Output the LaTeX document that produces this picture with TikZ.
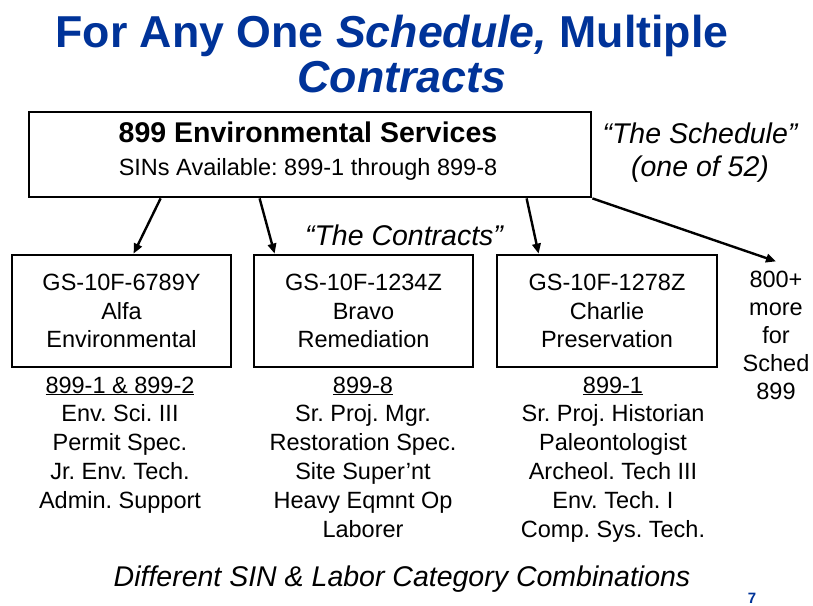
\documentclass[tikz,border=0pt]{standalone}
\usepackage{fontspec}
\setmainfont{Liberation Sans}
\usetikzlibrary{arrows.meta,calc}
\definecolor{titleblue}{RGB}{0,51,153}
\frenchspacing
\begin{document}
\frenchspacing
\begin{tikzpicture}[x=1pt,y=-1pt,
  box/.style={draw, line width=2.8pt, inner sep=0pt, align=center,
    font=\fontsize{23.5}{28.2}\selectfont},
  body/.style={font=\fontsize{23.5}{28.5}\selectfont, inner sep=0pt, anchor=base},
  ital/.style={font=\fontsize{28.5}{33}\selectfont\itshape, inner sep=0pt, anchor=base},
  titlefont/.style={font=\fontsize{44.7}{45}\selectfont\bfseries, text=titleblue, inner sep=0pt, anchor=base},
  conn/.style={line width=2.4pt, -{Triangle[length=10pt,width=8.5pt]}},
  ]
\useasboundingbox (0,0) rectangle (813,605);
\fill[white] (0,0) rectangle (813,605);

% title
\node[titlefont] (t1) at (392,47) {For Any One \textit{Schedule,} Multiple};
\node[titlefont] (t2) at (402,92) {\textit{Contracts}};

% schedule box
\node[box, minimum width=562pt, minimum height=85pt] (top) at (310,154.5) {};
\node[font=\fontsize{28.5}{30}\selectfont\bfseries, inner sep=0pt, anchor=base] (topt) at (308,142) {899 Environmental Services};
\node[body] (tops) at (308,175) {SINs Available: 899-1 through 899-8};

\node[ital] (sch1) at (700,143) {“The Schedule”};
\node[ital] (sch2) at (700,176) {(one of 52)};

\node[ital] (contr) at (404,245) {“The Contracts”};

% contract boxes
\node[box, minimum width=219pt, minimum height=112pt] (b1) at (121.5,311) {GS-10F-6789Y\\Alfa\\Environmental};
\node[box, minimum width=219pt, minimum height=112pt] (b2) at (363.5,311) {GS-10F-1234Z\\Bravo\\Remediation};
\node[box, minimum width=220pt, minimum height=112pt] (b3) at (607,311) {GS-10F-1278Z\\Charlie\\Preservation};

% more contracts
\foreach \t [count=\i] in {800+, more, for, Sched, 899}
  \node[body] (m\i) at (776,{287+(\i-1)*28}) {\t};

% labor categories
\foreach \t [count=\i] in {\underline{899-1 \& 899-2}, Env. Sci. III, Permit Spec., Jr. Env. Tech., Admin. Support}
  \node[body] (la\i) at (120,{393+(\i-1)*28.8}) {\t};
\foreach \t [count=\i] in {\underline{899-8}, Sr. Proj. Mgr., Restoration Spec., Site Super’nt, Heavy Eqmnt Op, Laborer}
  \node[body] (lb\i) at (363,{393+(\i-1)*28.8}) {\t};
\foreach \t [count=\i] in {\underline{899-1}, Sr. Proj. Historian, Paleontologist, Archeol. Tech III, Env. Tech. I, Comp. Sys. Tech.}
  \node[body] (lc\i) at (613,{393+(\i-1)*28.8}) {\t};

\node[ital] (diff) at (402,586) {Different SIN \& Labor Category Combinations};

\node[font=\fontsize{15}{15}\selectfont\bfseries, text=titleblue, inner sep=0pt, anchor=base] (pg) at (752,603) {7};

% connectors
\draw[conn] ([xshift=133pt]top.south west) -- ([xshift=123pt]b1.north west);
\draw[conn] ([xshift=232pt]top.south west) -- ([xshift=22pt]b2.north west);
\draw[conn] ([xshift=499pt]top.south west) -- ([xshift=43pt]b3.north west);
\draw[conn] (top.south east) -- ([yshift=9pt]m1.north);
\end{tikzpicture}
\end{document}
